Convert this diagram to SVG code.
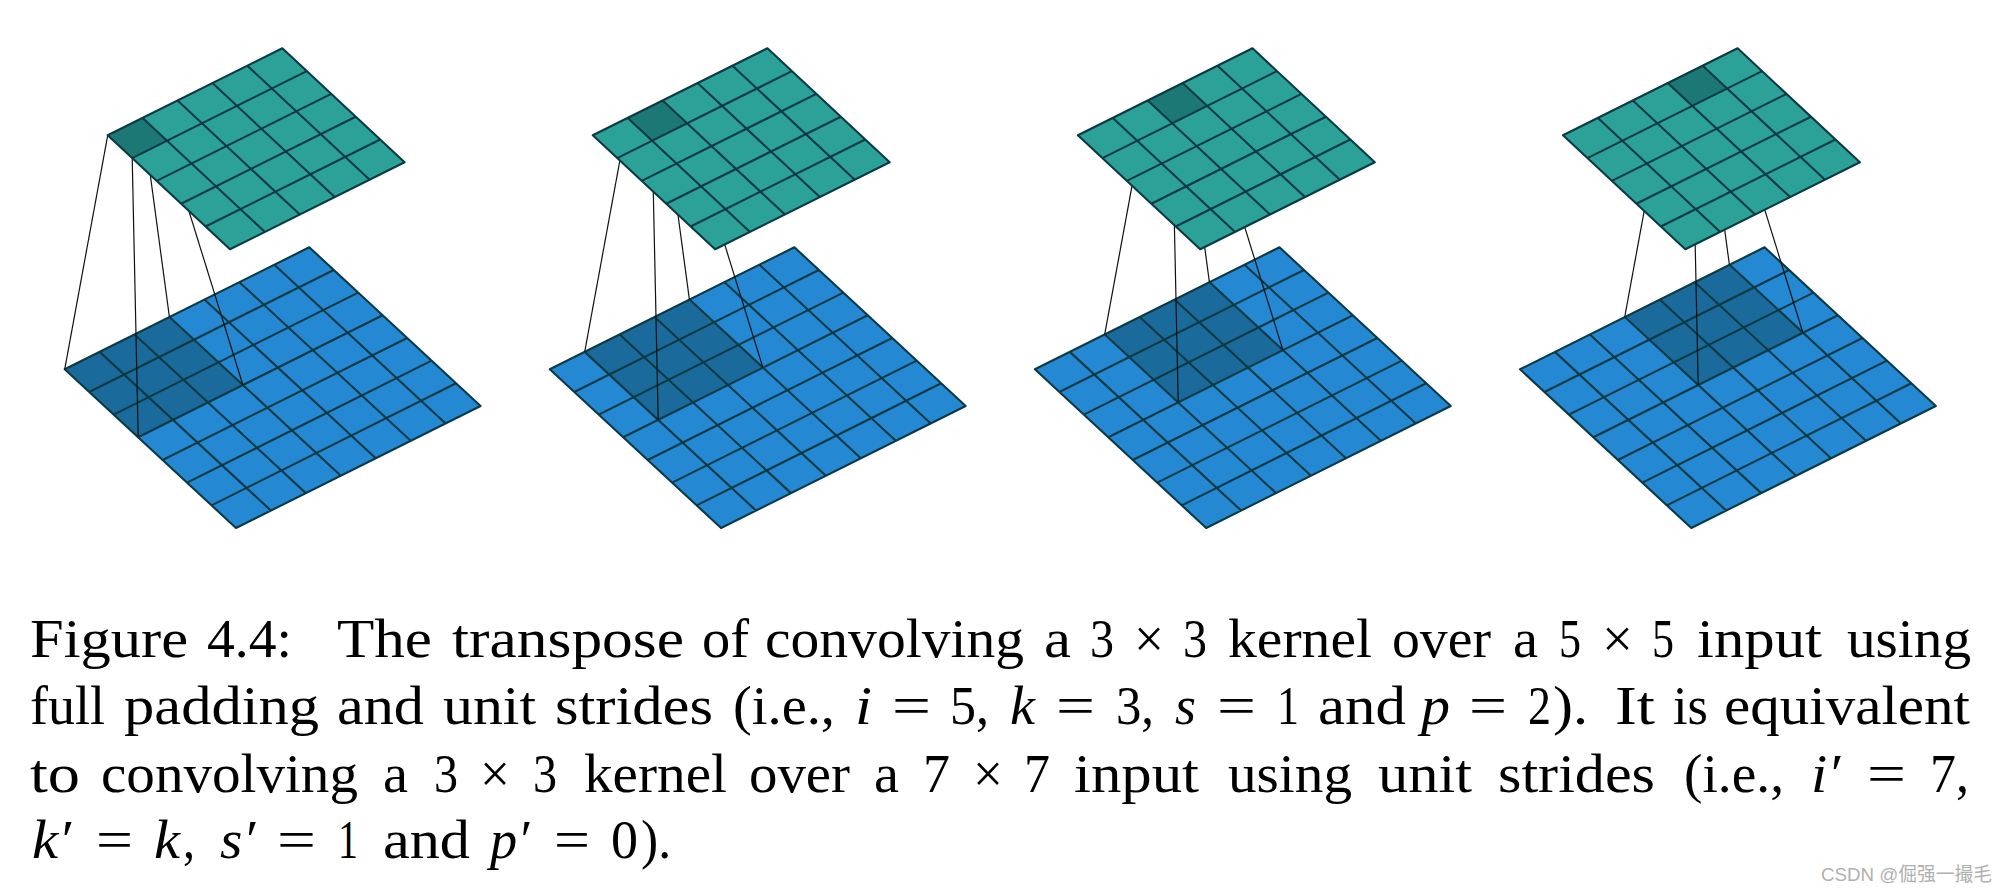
<svg xmlns="http://www.w3.org/2000/svg" xmlns:xlink="http://www.w3.org/1999/xlink" width="2007" height="895" viewBox="0 0 2007 895">
<style>
.blue{fill:#2588d3}.green{fill:#2ba197}.dblue{fill:#1a6a9b}.dgreen{fill:#1b7874}
.grid{fill:none;stroke:#0b3a45;stroke-width:2.1;vector-effect:non-scaling-stroke;stroke-linejoin:round}
.conn line{stroke:#111;stroke-width:1.2}
text{font-family:"Liberation Serif","Times New Roman",serif;font-size:55.5px;fill:#000}
.i{font-style:italic}
</style>
<defs>
<path id="g7" class="grid" d="M0 0H7V7H0ZM1 0V7M2 0V7M3 0V7M4 0V7M5 0V7M6 0V7M0 1H7M0 2H7M0 3H7M0 4H7M0 5H7M0 6H7"/>
<path id="g5" class="grid" d="M0 0H5V5H0ZM1 0V5M2 0V5M3 0V5M4 0V5M0 1H5M0 2H5M0 3H5M0 4H5"/>
</defs>
<rect width="2007" height="895" fill="#fff"/>
<g id="input-1" transform="matrix(34.94 -17.43 24.47 22.67 64.7 369.3)"><rect class="blue" width="7" height="7"/><rect class="dblue" x="0" width="3" height="3"/><use xlink:href="#g7" href="#g7"/></g>
<g id="input-2" transform="matrix(34.94 -17.43 24.47 22.67 549.8 369.3)"><rect class="blue" width="7" height="7"/><rect class="dblue" x="1" width="3" height="3"/><use xlink:href="#g7" href="#g7"/></g>
<g id="input-3" transform="matrix(34.94 -17.43 24.47 22.67 1034.9 369.3)"><rect class="blue" width="7" height="7"/><rect class="dblue" x="2" width="3" height="3"/><use xlink:href="#g7" href="#g7"/></g>
<g id="input-4" transform="matrix(34.94 -17.43 24.47 22.67 1520 369.3)"><rect class="blue" width="7" height="7"/><rect class="dblue" x="3" width="3" height="3"/><use xlink:href="#g7" href="#g7"/></g>
<g id="connectors" class="conn">
<g transform="translate(0 0)"><line x1="107.7" y1="135.3" x2="64.7" y2="369.3"/><line x1="142.6" y1="117.9" x2="169.4" y2="317"/><line x1="132.2" y1="158.1" x2="138.2" y2="437.3"/><line x1="167.1" y1="140.7" x2="242.9" y2="385"/></g>
<g transform="translate(520 -17.42)"><line x1="107.7" y1="135.3" x2="64.7" y2="369.3"/><line x1="142.6" y1="117.9" x2="169.4" y2="317"/><line x1="132.2" y1="158.1" x2="138.2" y2="437.3"/><line x1="167.1" y1="140.7" x2="242.9" y2="385"/></g>
<g transform="translate(1040 -34.84)"><line x1="107.7" y1="135.3" x2="64.7" y2="369.3"/><line x1="142.6" y1="117.9" x2="169.4" y2="317"/><line x1="132.2" y1="158.1" x2="138.2" y2="437.3"/><line x1="167.1" y1="140.7" x2="242.9" y2="385"/></g>
<g transform="translate(1560 -52.26)"><line x1="107.7" y1="135.3" x2="64.7" y2="369.3"/><line x1="142.6" y1="117.9" x2="169.4" y2="317"/><line x1="132.2" y1="158.1" x2="138.2" y2="437.3"/><line x1="167.1" y1="140.7" x2="242.9" y2="385"/></g>
</g>
<g id="output-1" transform="matrix(34.92 -17.4 24.46 22.8 107.7 135.3)"><rect class="green" width="5" height="5"/><rect class="dgreen" x="0" width="1" height="1"/><use xlink:href="#g5" href="#g5"/></g>
<g id="output-2" transform="matrix(34.92 -17.4 24.46 22.8 592.8 135.3)"><rect class="green" width="5" height="5"/><rect class="dgreen" x="1" width="1" height="1"/><use xlink:href="#g5" href="#g5"/></g>
<g id="output-3" transform="matrix(34.92 -17.4 24.46 22.8 1077.9 135.3)"><rect class="green" width="5" height="5"/><rect class="dgreen" x="2" width="1" height="1"/><use xlink:href="#g5" href="#g5"/></g>
<g id="output-4" transform="matrix(34.92 -17.4 24.46 22.8 1563 135.3)"><rect class="green" width="5" height="5"/><rect class="dgreen" x="3" width="1" height="1"/><use xlink:href="#g5" href="#g5"/></g>
<g id="caption">
<text y="656.7"><tspan x="30" textLength="158" lengthAdjust="spacingAndGlyphs">Figure</tspan> <tspan x="207" textLength="85" lengthAdjust="spacingAndGlyphs">4.4:</tspan> <tspan x="337" textLength="95" lengthAdjust="spacingAndGlyphs">The</tspan> <tspan x="452" textLength="232" lengthAdjust="spacingAndGlyphs">transpose</tspan> <tspan x="702" textLength="47" lengthAdjust="spacingAndGlyphs">of</tspan> <tspan x="765" textLength="259" lengthAdjust="spacingAndGlyphs">convolving</tspan> <tspan x="1044" textLength="27" lengthAdjust="spacingAndGlyphs">a</tspan> <tspan x="1090" textLength="24" lengthAdjust="spacingAndGlyphs">3</tspan> <tspan x="1134" textLength="30" lengthAdjust="spacingAndGlyphs">×</tspan> <tspan x="1183" textLength="24" lengthAdjust="spacingAndGlyphs">3</tspan> <tspan x="1228" textLength="144" lengthAdjust="spacingAndGlyphs">kernel</tspan> <tspan x="1392" textLength="99" lengthAdjust="spacingAndGlyphs">over</tspan> <tspan x="1513" textLength="25" lengthAdjust="spacingAndGlyphs">a</tspan> <tspan x="1559" textLength="22" lengthAdjust="spacingAndGlyphs">5</tspan> <tspan x="1602" textLength="31" lengthAdjust="spacingAndGlyphs">×</tspan> <tspan x="1652" textLength="22" lengthAdjust="spacingAndGlyphs">5</tspan> <tspan x="1697" textLength="125" lengthAdjust="spacingAndGlyphs">input</tspan> <tspan x="1847" textLength="124" lengthAdjust="spacingAndGlyphs">using</tspan></text>
<text y="724"><tspan x="30" textLength="75" lengthAdjust="spacingAndGlyphs">full</tspan> <tspan x="124" textLength="195" lengthAdjust="spacingAndGlyphs">padding</tspan> <tspan x="337" textLength="87" lengthAdjust="spacingAndGlyphs">and</tspan> <tspan x="443" textLength="93" lengthAdjust="spacingAndGlyphs">unit</tspan> <tspan x="555" textLength="158" lengthAdjust="spacingAndGlyphs">strides</tspan> <tspan x="733" textLength="102" lengthAdjust="spacingAndGlyphs">(i.e.,</tspan> <tspan class="i" x="855" textLength="17" lengthAdjust="spacingAndGlyphs">i</tspan> <tspan x="892" textLength="39" lengthAdjust="spacingAndGlyphs">=</tspan> <tspan x="950" textLength="39" lengthAdjust="spacingAndGlyphs">5,</tspan> <tspan class="i" x="1010" textLength="25" lengthAdjust="spacingAndGlyphs">k</tspan> <tspan x="1056" textLength="39" lengthAdjust="spacingAndGlyphs">=</tspan> <tspan x="1116" textLength="38" lengthAdjust="spacingAndGlyphs">3,</tspan> <tspan class="i" x="1175" textLength="21" lengthAdjust="spacingAndGlyphs">s</tspan> <tspan x="1217" textLength="39" lengthAdjust="spacingAndGlyphs">=</tspan> <tspan x="1277" textLength="22" lengthAdjust="spacingAndGlyphs">1</tspan> <tspan x="1318" textLength="88" lengthAdjust="spacingAndGlyphs">and</tspan> <tspan class="i" x="1421" textLength="29" lengthAdjust="spacingAndGlyphs">p</tspan> <tspan x="1469" textLength="38" lengthAdjust="spacingAndGlyphs">=</tspan> <tspan x="1528" textLength="23" lengthAdjust="spacingAndGlyphs">2</tspan><tspan x="1553" textLength="35" lengthAdjust="spacingAndGlyphs">).</tspan> <tspan x="1615" textLength="40" lengthAdjust="spacingAndGlyphs">It</tspan> <tspan x="1673" textLength="35" lengthAdjust="spacingAndGlyphs">is</tspan> <tspan x="1724" textLength="246" lengthAdjust="spacingAndGlyphs">equivalent</tspan></text>
<text y="791.5"><tspan x="30" textLength="50" lengthAdjust="spacingAndGlyphs">to</tspan> <tspan x="101" textLength="257" lengthAdjust="spacingAndGlyphs">convolving</tspan> <tspan x="383" textLength="25" lengthAdjust="spacingAndGlyphs">a</tspan> <tspan x="434" textLength="24" lengthAdjust="spacingAndGlyphs">3</tspan> <tspan x="480" textLength="30" lengthAdjust="spacingAndGlyphs">×</tspan> <tspan x="533" textLength="24" lengthAdjust="spacingAndGlyphs">3</tspan> <tspan x="584" textLength="143" lengthAdjust="spacingAndGlyphs">kernel</tspan> <tspan x="749" textLength="101" lengthAdjust="spacingAndGlyphs">over</tspan> <tspan x="874" textLength="25" lengthAdjust="spacingAndGlyphs">a</tspan> <tspan x="923" textLength="27" lengthAdjust="spacingAndGlyphs">7</tspan> <tspan x="973" textLength="30" lengthAdjust="spacingAndGlyphs">×</tspan> <tspan x="1024" textLength="26" lengthAdjust="spacingAndGlyphs">7</tspan> <tspan x="1074" textLength="125" lengthAdjust="spacingAndGlyphs">input</tspan> <tspan x="1228" textLength="124" lengthAdjust="spacingAndGlyphs">using</tspan> <tspan x="1378" textLength="94" lengthAdjust="spacingAndGlyphs">unit</tspan> <tspan x="1498" textLength="157" lengthAdjust="spacingAndGlyphs">strides</tspan> <tspan x="1684" textLength="100" lengthAdjust="spacingAndGlyphs">(i.e.,</tspan> <tspan class="i" x="1811" textLength="29" lengthAdjust="spacingAndGlyphs">i′</tspan> <tspan x="1867" textLength="39" lengthAdjust="spacingAndGlyphs">=</tspan> <tspan x="1930" textLength="39" lengthAdjust="spacingAndGlyphs">7,</tspan></text>
<text y="858"><tspan class="i" x="32" textLength="39" lengthAdjust="spacingAndGlyphs">k′</tspan> <tspan x="96" textLength="37" lengthAdjust="spacingAndGlyphs">=</tspan> <tspan class="i" x="154" textLength="26" lengthAdjust="spacingAndGlyphs">k</tspan><tspan x="183" textLength="12" lengthAdjust="spacingAndGlyphs">,</tspan> <tspan class="i" x="220" textLength="35" lengthAdjust="spacingAndGlyphs">s′</tspan> <tspan x="277" textLength="39" lengthAdjust="spacingAndGlyphs">=</tspan> <tspan x="338" textLength="20" lengthAdjust="spacingAndGlyphs">1</tspan> <tspan x="383" textLength="87" lengthAdjust="spacingAndGlyphs">and</tspan> <tspan class="i" x="490" textLength="39" lengthAdjust="spacingAndGlyphs">p′</tspan> <tspan x="554" textLength="36" lengthAdjust="spacingAndGlyphs">=</tspan> <tspan x="611" textLength="27" lengthAdjust="spacingAndGlyphs">0</tspan><tspan x="641" textLength="30" lengthAdjust="spacingAndGlyphs">).</tspan></text>
</g>
<text id="watermark" x="1821" y="881" textLength="171" lengthAdjust="spacingAndGlyphs" style="font-family:'Liberation Sans','Noto Sans CJK SC',sans-serif;font-size:19px;fill:#b0b0b0">CSDN @倔强一撮毛</text>
</svg>
